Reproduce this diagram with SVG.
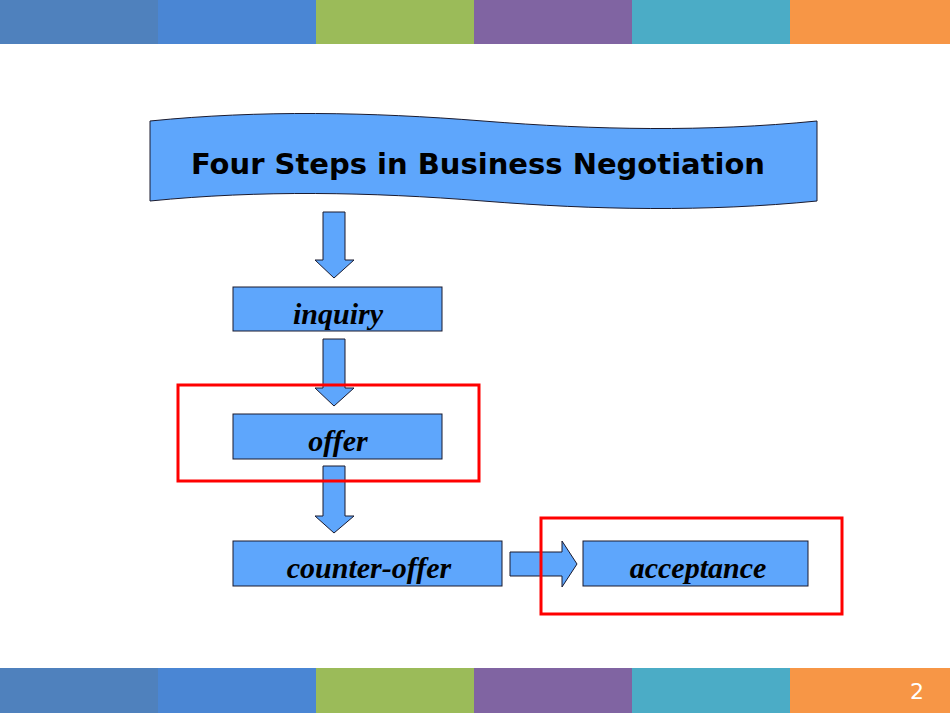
<svg xmlns="http://www.w3.org/2000/svg" width="950" height="713" viewBox="0 0 950 713">
<style>
.b{fill:#5ea6fc;stroke:#1a1a2e;stroke-width:1}
.t{font-family:"Liberation Serif",serif;font-style:italic;font-weight:bold;font-size:30px;text-anchor:middle;fill:#000}
.r{fill:none;stroke:#f00;stroke-width:3}
</style>
<rect width="950" height="713" fill="#fff"/>
<g id="topbar">
<rect x="0" y="0" width="158" height="44" fill="#4f81bd"/><rect x="158" y="0" width="158" height="44" fill="#4a86d4"/><rect x="316" y="0" width="158" height="44" fill="#9bbb59"/><rect x="474" y="0" width="158" height="44" fill="#8064a2"/><rect x="632" y="0" width="158" height="44" fill="#4bacc6"/><rect x="790" y="0" width="160" height="44" fill="#f79646"/>
</g>
<g id="bottombar">
<rect x="0" y="668" width="158" height="45" fill="#4f81bd"/><rect x="158" y="668" width="158" height="45" fill="#4a86d4"/><rect x="316" y="668" width="158" height="45" fill="#9bbb59"/><rect x="474" y="668" width="158" height="45" fill="#8064a2"/><rect x="632" y="668" width="158" height="45" fill="#4bacc6"/><rect x="790" y="668" width="160" height="45" fill="#f79646"/>
<text x="917" y="699" font-family="DejaVu Sans,sans-serif" font-size="22" fill="#fff" text-anchor="middle">2</text>
</g>
<g id="title">
<path class="b" d="M150,121 C260,110 370,112 483,121 C596,130 706,132 817,121 L817,201 C706,212 596,210 483,201 C370,192 260,190 150,201 Z"/>
<text x="478" y="174" font-family="DejaVu Sans,sans-serif" font-weight="bold" font-size="29" text-anchor="middle">Four Steps in Business Negotiation</text>
</g>
<g id="connectors">
<path class="b" d="M323,212 H345 V260 H354 L334,278 L315,260 H323 Z"/>
<path class="b" d="M323,339 H345 V388 H354 L334,406 L315,388 H323 Z"/>
<path class="b" d="M323,466 H345 V516 H354 L334,533 L315,516 H323 Z"/>
<path class="b" d="M510,552 H562 V541 L577,564 L562,587 V576 H510 Z"/>
</g>
<g id="inquiry"><rect class="b" x="233" y="287" width="209" height="44"/><text class="t" x="338" y="324">inquiry</text></g>
<g id="offer"><rect class="b" x="233" y="414" width="209" height="45"/><text class="t" x="338" y="451">offer</text></g>
<g id="counter-offer"><rect class="b" x="233" y="541" width="269" height="45"/><text class="t" x="369" y="578">counter-offer</text></g>
<g id="acceptance"><rect class="b" x="583" y="541" width="225" height="45"/><text class="t" x="698" y="578">acceptance</text></g>
<g id="highlights">
<rect class="r" x="178" y="385" width="301" height="96"/>
<rect class="r" x="541" y="518" width="301" height="96"/>
</g>
</svg>
